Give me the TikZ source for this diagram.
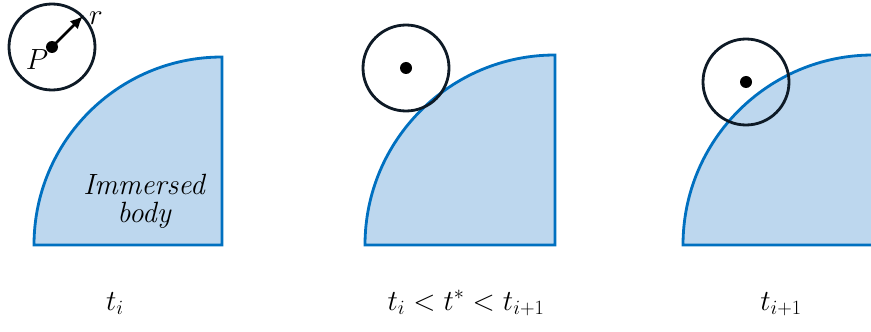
\documentclass[tikz,border=0pt]{standalone}
\usepackage{amsmath}
\usetikzlibrary{arrows.meta}

\definecolor{bodyfill}{HTML}{BDD7EE}
\definecolor{bodyline}{HTML}{0070C0}
\definecolor{ringline}{HTML}{0E1A26}

\begin{document}
\begin{tikzpicture}[
    x=0.03cm, y=0.03cm,
    body/.style={
        fill=bodyfill,
        draw=bodyline,
        line width=2.4pt
    },
    particle/.style={
        draw=ringline,
        line width=2.4pt
    },
    centre/.style={
        fill=black
    },
    radiusarrow/.style={
        line width=2.2pt,
        -{Latex[length=11pt,width=10pt]}
    },
    timelabel/.style={
        font=\fontsize{25}{30}\selectfont,
        anchor=base
    }
]
\useasboundingbox (0,0) rectangle (871,331);
\clip (0,0) rectangle (871,331);

% --- immersed bodies ---
\draw [body] (34,86) arc[start angle=180, end angle=90, radius=188] -- (222,86) -- cycle;
\draw [body] (365,86) arc[start angle=180, end angle=90, radius=190] -- (555,86) -- cycle;
\draw [body] (683,86) arc[start angle=180, end angle=90, radius=190] -- (873,86) -- cycle;

\node (bodytext) [font=\fontsize{25}{24}\selectfont\itshape, align=center] at (144,130) {Immersed\\body};

% --- particles ---
\coordinate (p1) at (52,284);
\coordinate (p2) at (406,263);
\coordinate (p3) at (746,249);
\draw [particle] (p1) circle[radius=43];
\draw [particle] (p2) circle[radius=43];
\draw [particle] (p3) circle[radius=43];
\fill [centre] (p1) circle[radius=6];
\fill [centre] (p2) circle[radius=6];
\fill [centre] (p3) circle[radius=6];

\coordinate (rtip) at (83,315);
\draw [radiusarrow] (p1) -- (rtip);
\node (rlabel) [font=\fontsize{26}{30}\selectfont, inner sep=0pt] at (96,313) {$r$};
\node (plabel) [font=\fontsize{27}{30}\selectfont] at (37,271) {$P$};

% --- time labels ---
\node (t1) [timelabel] at (115,21) {$t_i$};
\node (t2) [timelabel] at (466,21) {$t_i < t^* < t_{i+1}$};
\node (t3) [timelabel] at (781,21) {$t_{i+1}$};

\end{tikzpicture}
\end{document}
